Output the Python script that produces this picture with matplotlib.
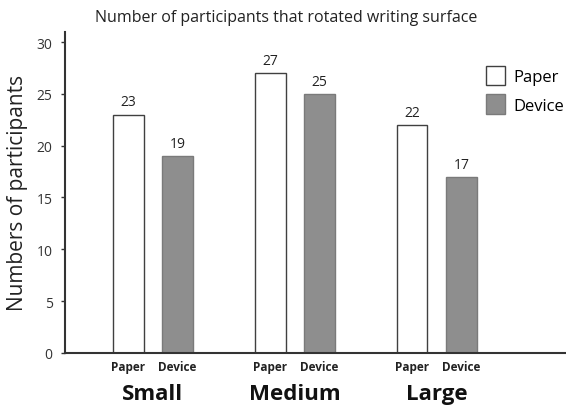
import matplotlib.pyplot as plt
import numpy as np

plt.rcParams['font.family'] = ['Open Sans', 'DejaVu Sans']

sizes = ["Small", "Medium", "Large"]
paper = [23, 27, 22]
device = [19, 25, 17]
bar_names = ["Paper", "Device"]

x = np.arange(len(sizes))
off = 0.173
w = 0.215

fig = plt.figure(figsize=(5.66, 4.10), dpi=100)
ax = fig.add_axes([0.115, 0.137, 0.885, 0.783])

b1 = ax.bar(x - off, paper, w, color='white', edgecolor='#404040', linewidth=1, label=bar_names[0])
b2 = ax.bar(x + off, device, w, color='#8e8e8e', edgecolor='#7a7a7a', linewidth=1, label=bar_names[1])

# value labels on top of each bar
for bars, vals in [(b1, paper), (b2, device)]:
    for r, v in zip(bars, vals):
        ax.text(r.get_x() + r.get_width() / 2, v + 0.5, str(v), ha='center', va='bottom',
                fontsize=10, color='#222222')

ax.set_xlim(-0.618, 2.91)
ax.set_ylim(0, 31)
ax.set_yticks([0, 5, 10, 15, 20, 25, 30])
ax.tick_params(axis='y', labelsize=10, length=3, width=1, colors='#333333', pad=6)

ticks = np.concatenate([x - off, x + off])
ax.set_xticks(ticks)
ax.set_xticklabels([bar_names[0]] * 3 + [bar_names[1]] * 3, fontsize=8.5, fontweight='bold', color='#222222')
ax.tick_params(axis='x', length=0, pad=5)

# group names under the bar labels
for xi, name in zip(x, sizes):
    ax.text(xi, -0.128, name, transform=ax.get_xaxis_transform(), ha='center', va='center',
            fontsize=16, fontweight='bold', color='#111111')

for s in ['top', 'right']:
    ax.spines[s].set_visible(False)
for s in ['left', 'bottom']:
    ax.spines[s].set_color('#333333')
    ax.spines[s].set_linewidth(1.5)

ax.set_ylabel("Numbers of participants", fontsize=15, color='#222222', labelpad=6)
fig.text(0.505, 0.957, "Number of participants that rotated writing surface",
         ha='center', va='center', fontsize=11.5, color='#222222')

ax.legend(loc='upper right', bbox_to_anchor=(1.026, 0.94), frameon=False, fontsize=12,
          handlelength=1.15, handleheight=1.4, labelspacing=0.55, handletextpad=0.5)

fig.savefig("out.png", dpi=100)
